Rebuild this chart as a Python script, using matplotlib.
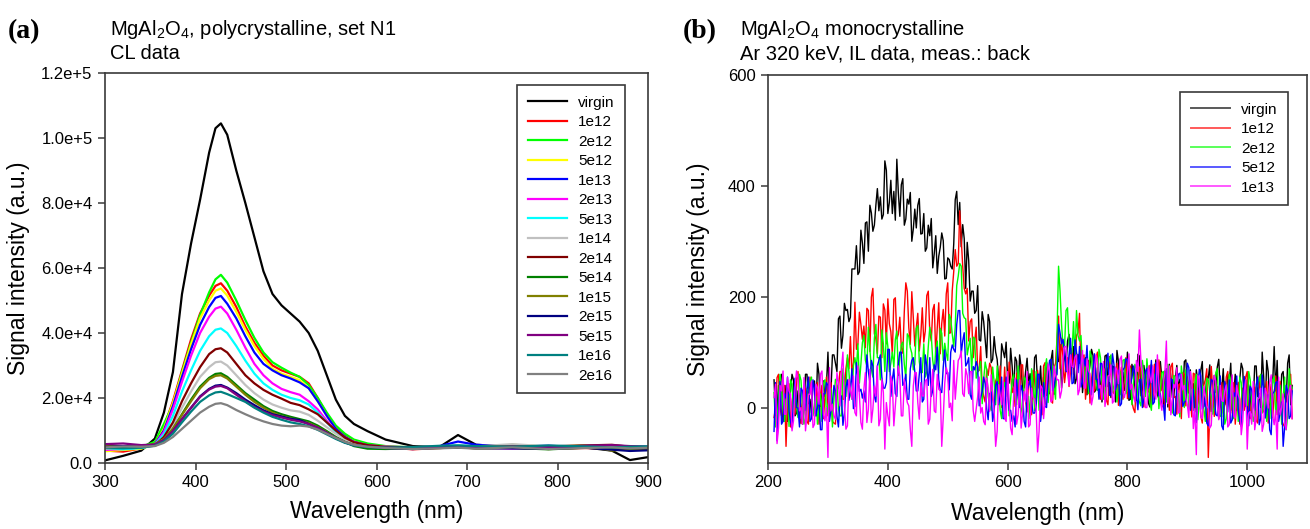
#!/usr/bin/env python
# -*- coding: utf-8 -*-

import numpy as np
import matplotlib
matplotlib.use('Agg')
import matplotlib.pyplot as plt

plt.rcParams['font.family'] = ['Liberation Sans', 'DejaVu Sans']

# ---------------- panel (a): CL data, polycrystalline ----------------
wl_a = [300, 320, 340, 355, 365, 375, 385, 395, 405, 415, 422, 428, 435, 445,
        455, 465, 475, 485, 495, 505, 515, 525, 535, 545, 555, 565, 575, 590,
        610, 640, 670, 690, 710, 750, 790, 830, 860, 880, 900]

labels_a = ['virgin', '1e12', '2e12', '5e12', '1e13', '2e13', '5e13', '1e14',
            '2e14', '5e14', '1e15', '2e15', '5e15', '1e16', '2e16']
colors_a = ['#000000', '#ff0000', '#00ff00', '#ffff00', '#0000ff', '#ff00ff',
            '#00ffff', '#c0c0c0', '#800000', '#008000', '#808000', '#000080',
            '#800080', '#008080', '#808080']

virgin_a = [800, 2200, 3800, 7500, 15500, 28000, 52000, 67500, 81000, 95500, 103000, 104500, 101000,
            90000, 80000, 69500, 59000, 52000, 48500, 46000, 43500, 40000, 34500, 27000, 19500,
            14500, 12000, 9800, 7200, 5200, 5000, 8600, 5600, 5000, 4600, 4800, 3800, 900, 1800]
s1e12 = [3800, 3500, 4500, 6000, 11000, 19000, 28500, 38000, 46000, 51500, 54500, 55300, 53000,
         48000, 42000, 37000, 33000, 30000, 28500, 27500, 26500, 24500, 20000, 15000, 11000,
         8500, 6800, 5600, 4800, 4200, 4600, 4800, 4500, 4700, 4300, 4600, 4400, 4800, 4300]
s2e12 = [4200, 4600, 5000, 6500, 12000, 18000, 28000, 37000, 45500, 52500, 56500, 57900, 55500,
         50000, 44000, 38500, 34000, 31000, 29300, 27800, 26500, 24000, 20000, 15500, 11500,
         9000, 7200, 6000, 5200, 4800, 5000, 5300, 5000, 4700, 5200, 4900, 4600, 4700, 4500]
s5e12 = [3600, 4000, 4400, 5800, 10500, 18500, 27500, 36500, 44500, 50000, 53000, 53700, 51500,
         46500, 41000, 36000, 32000, 29000, 27500, 26500, 25500, 23000, 19000, 14500, 10500,
         8000, 6600, 5500, 5000, 4600, 4900, 5100, 4800, 5600, 5000, 4700, 4500, 4400, 4600]
s1e13 = [4300, 4500, 4700, 5800, 10000, 17500, 26500, 35000, 42500, 48000, 50800, 51400, 49000,
         44500, 39000, 34000, 30500, 28500, 27000, 26000, 24800, 23000, 19000, 14500, 10500,
         8000, 6500, 5500, 5000, 4700, 5200, 6600, 5600, 5000, 5300, 4800, 5200, 5000, 4800]
s2e13 = [4000, 4300, 4800, 5600, 9500, 16500, 25000, 33000, 40000, 45000, 47500, 48100, 46000,
         41000, 35500, 30500, 27000, 24500, 22800, 21800, 21000, 19000, 16500, 13000, 9800,
         7600, 6400, 5400, 4700, 4300, 4800, 5000, 4700, 4400, 4800, 5300, 4700, 4100, 4500]
s5e13 = [4500, 4200, 4600, 5500, 8800, 14500, 22000, 28500, 34500, 39000, 41000, 41400, 40000,
         36000, 31500, 27500, 24500, 22500, 21000, 20000, 19300, 18000, 15500, 12500, 9500,
         7500, 6200, 5300, 4900, 4600, 5000, 5400, 5100, 5300, 4900, 5000, 5300, 5100, 5200]
s1e14 = [4400, 4700, 4900, 5300, 7500, 11500, 17000, 22000, 26500, 29500, 31000, 31200, 30000,
         27000, 24000, 21500, 19500, 18000, 17000, 16200, 15800, 14800, 13000, 11000, 9000,
         7200, 6200, 5400, 5100, 4900, 5200, 5300, 5100, 5800, 5100, 5000, 5300, 4800, 5000]
s2e14 = [4800, 5200, 5000, 5400, 8000, 12500, 19000, 24500, 29500, 33500, 35000, 35300, 34000,
         30500, 27000, 24500, 22500, 21000, 19800, 18500, 17800, 16500, 15000, 12500, 10000,
         7800, 6400, 5500, 5000, 4800, 4900, 5200, 5000, 4800, 5100, 5400, 5600, 5000, 4900]
s5e14 = [5200, 4800, 5300, 5600, 7200, 10500, 15000, 19500, 23500, 26200, 27400, 27600, 26500,
         24000, 21500, 19500, 17500, 16000, 15000, 14200, 13500, 12800, 11500, 9800, 8000,
         6500, 5200, 4400, 4300, 4500, 4600, 4900, 4500, 4600, 4200, 4700, 4400, 4300, 4600]
s1e15 = [5600, 5000, 5200, 5800, 7400, 10500, 14800, 19000, 23000, 25800, 26800, 27000, 26000,
         23500, 21000, 18800, 17000, 15500, 14400, 13700, 13000, 12300, 11000, 9500, 7800,
         6500, 5600, 5000, 4700, 4500, 4800, 4700, 4900, 5200, 5000, 5400, 3800, 4500, 4200]
s2e15 = [4900, 5200, 4900, 5500, 7000, 9800, 13500, 17000, 20500, 22800, 23800, 24000, 23200,
         21500, 19500, 17800, 16200, 15000, 14300, 13600, 13200, 12000, 10800, 9300, 7700,
         6400, 5500, 5000, 4600, 4300, 4700, 4800, 4600, 4500, 4400, 4700, 4100, 3700, 3900]
s5e15 = [5800, 6000, 5500, 5700, 7000, 9800, 13500, 17000, 20300, 22600, 23500, 23700, 23000,
         21000, 19000, 17200, 15800, 14700, 14000, 13300, 12800, 12000, 10800, 9200, 7600,
         6300, 5500, 5000, 4800, 4600, 4900, 5000, 4800, 5100, 4900, 5300, 5500, 5200, 5000]
s1e16 = [4600, 4500, 4700, 5300, 6600, 9000, 12500, 15800, 18800, 20800, 21700, 21900, 21200,
         20000, 18800, 17000, 15500, 14200, 13300, 12500, 12000, 11300, 10200, 8800, 7400,
         6200, 5400, 4900, 4700, 4900, 5300, 5400, 5200, 5000, 5400, 5100, 4800, 5000, 5100]
s2e16 = [4800, 5100, 5000, 5200, 6200, 8000, 10500, 13000, 15500, 17300, 18200, 18400, 17800,
         16300, 15000, 13800, 12800, 12000, 11500, 11300, 11500, 11200, 10300, 9000, 7700,
         6500, 5600, 5000, 4600, 4300, 4500, 4700, 4400, 4800, 4300, 4600, 4800, 4500, 4700]

series_a = [virgin_a, s1e12, s2e12, s5e12, s1e13, s2e13, s5e13, s1e14, s2e14,
            s5e14, s1e15, s2e15, s5e15, s1e16, s2e16]

yticks_a = [0, 20000, 40000, 60000, 80000, 100000, 120000]
yticklabels_a = ['0.0', '2.0e+4', '4.0e+4', '6.0e+4', '8.0e+4', '1.0e+5', '1.2e+5']

# ---------------- panel (b): IL data, monocrystalline ----------------
# readings every 2.5 nm, 210 ... 1075; "main" = 210, 215, ...; "mid" = 212.5, 217.5, ...
wl_b = np.arange(210, 1075.1, 2.5)

labels_b = ['virgin', '1e12', '2e12', '5e12', '1e13']
colors_b = ['#000000', '#ff0000', '#00ff00', '#0000ff', '#ff00ff']

virgin_main = [50, -5, 25, -25, 40, 10, 60, -15, 30, 0,
               -5, 60, 15, 45, -15, 60, 35, 20, 100, 30,
               95, 65, 165, 130, 175, 155, 250, 250, 240, 320,
               260, 335, 365, 318, 365, 355, 340, 445, 350, 410,
               390, 448, 345, 413, 340, 367, 300, 358, 365, 313,
               350, 288, 310, 252, 310, 273, 315, 232, 270, 255,
               295, 390, 370, 330, 215, 265, 210, 170, 220, 120,
               155, 90, 155, 87, 100, 50, 115, 90, 50, 107,
               28, 84, 95, 32, 65, 42, 15, 90, 45, 75,
               55, 82, 25, 103, 40, 83, 35, 105, 120, 70,
               110, 52, 80, 27, 90, 57, 105, 28, 72, 41,
               30, 95, 45, 75, 10, 83, 52, 31, 100, 15,
               63, 13, 93, 33, 53, 8, 78, 58, 23, 83,
               3, 63, 78, 18, 53, 33, 8, 83, 38, 68,
               43, 68, 8, 83, 18, 53, -7, 58, 73, 28,
               70, 15, 45, -5, 60, 30, 80, 5, 50, 20,
               10, 75, 25, 100, -10, 65, 35, 110, 85, 0,
               65, 10, 95, 40]
virgin_mid = [-15, 40, 60, 5, -25, 30, 50, -10, 20, -30,
              60, 7, -10, 48, 80, 2, 48, 40, 15, 95,
              80, 160, 107, 188, 177, 163, 250, 292, 245, 297,
              333, 282, 351, 329, 395, 380, 348, 428, 370, 350,
              338, 388, 402, 329, 376, 388, 322, 324, 377, 314,
              282, 329, 341, 278, 242, 289, 301, 233, 267, 250,
              375, 330, 290, 305, 298, 192, 210, 175, 122, 173,
              122, 168, 81, 128, 87, 43, 102, 118, 44, 75,
              91, 22, 73, 36, 89, 61, 20, 95, 35, 15,
              6, 63, 86, 24, 84, 114, 62, 75, 132, 73,
              43, 96, 113, 56, 23, 76, 94, 32, 61, 10,
              93, 38, 18, 73, 103, 23, 63, 48, 13, 78,
              36, 96, 21, 76, 41, 1, 66, 86, 16, 51,
              66, 1, 56, 21, 76, 51, 11, 86, 26, 6,
              -8, 47, 67, 2, 57, 77, 17, 27, 87, 32,
              5, 60, 80, 25, -5, 50, 70, 10, 40, -10,
              75, 20, 0, 55, 85, 5, 45, 30, -5, 60,
              20, 80, 5]

r1e12_main = [-18, 54, -1, 32, -70, 43, 10, -12, 65, -29,
              25, -25, 55, -5, 15, -30, 40, 20, -15, 45,
              -28, 40, 65, 15, 70, 70, 60, 190, 115, 150,
              147, 179, 101, 215, 124, 165, 90, 176, 196, 137,
              195, 124, 163, 98, 225, 144, 209, 111, 170, 130,
              118, 202, 137, 176, 92, 189, 152, 129, 225, 135,
              245, 255, 355, 255, 205, 120, 160, 120, 65, 110,
              20, 70, 80, 15, 48, 25, 0, 73, 27, 57,
              37, 62, 2, 77, 12, 47, -13, 52, 67, 22,
              75, 22, 55, 8, 80, 165, 125, 45, 90, 65,
              60, 130, 170, 90, 15, 85, 52, 30, 100, 15,
              65, 13, 92, 31, 50, 4, 73, 52, 16, 75,
              -2, 58, 73, 13, 48, 28, 3, 78, 33, 63,
              30, 70, -5, 80, 20, 40, -20, 60, 55, 15,
              62, -4, 32, -28, 50, -90, 74, -16, 38, 2,
              -10, 55, 5, 35, -30, 45, 15, -5, 65, -20,
              27, -23, 57, -3, 17, -28, 42, 22, -13, 47,
              -30, 30, 45, -20]
r1e12_mid = [0, 60, -15, 40, 5, -35, 30, 50, -20, 15,
             35, -30, 25, -10, 45, 20, -20, 55, -5, -25,
             -30, 35, 65, 15, 90, 128, 82, 105, 172, 123,
             108, 175, 199, 133, 97, 163, 187, 115, 151, 96,
             198, 132, 108, 174, 210, 114, 162, 144, 102, 180,
             138, 210, 120, 186, 144, 97, 177, 205, 134, 211,
             285, 260, 305, 215, 215, 155, 90, 145, 67, 33,
             10, 58, 72, 4, 56, 75, 14, 23, 82, 27,
             2, 57, 77, 22, -8, 47, 67, 7, 37, -13,
             81, 29, 12, 72, 125, 70, 88, 70, 38, 107,
             78, 135, 50, 95, 53, 8, 71, 90, 20, 55,
             70, 5, 60, 25, 80, 55, 15, 90, 30, 10,
             -9, 46, 66, 1, 56, 76, 16, 26, 86, 31,
             -2, 53, 73, 18, -12, 43, 63, 3, 33, -17,
             60, 5, -15, 40, 70, -10, 30, 15, -20, 45,
             5, 65, -10, 45, 10, -30, 35, 55, -15, 20,
             37, -28, 27, -8, 47, 22, -18, 57, -3, -23,
             -35, 20, 60]

g2e12_main = [27, -28, 60, -7, 16, -34, 43, 21, -18, 49,
              -30, 30, 45, -15, 20, 0, -25, 50, 5, 35,
              15, 42, -15, 70, 20, 65, 15, 90, 115, 78,
              130, 75, 105, 55, 150, 90, 140, 65, 110, 80,
              73, 138, 88, 118, 53, 128, 98, 78, 148, 63,
              115, 65, 145, 85, 105, 62, 134, 116, 85, 160,
              110, 220, 260, 170, 160, 110, 65, 125, 65, 83,
              50, 68, 2, 73, 5, 40, -20, 45, 60, 15,
              60, 5, 35, -15, 50, 20, 70, -5, 40, 10,
              20, 88, 40, 75, 15, 255, 150, 110, 180, 95,
              155, 175, 120, 75, 80, 25, 90, 68, 31, 90,
              15, 73, 87, 27, 58, 37, 12, 87, 40, 70,
              45, 70, 10, 85, 20, 55, -5, 60, 75, 30,
              65, 10, 40, -10, 55, 25, 75, 0, 45, 15,
              -5, 60, 10, 40, -25, 50, 20, 0, 70, -15,
              30, -20, 60, 0, 20, -25, 45, 25, -10, 50,
              -25, 35, 50, -10, 25, 5, -20, 55, 10, 40,
              20, -40, 70, 35]
g2e12_mid = [-35, 20, 40, -25, 30, 50, -10, 0, 60, 5,
             -20, 35, 55, 0, -30, 25, 45, -15, 15, -35,
             51, -2, -15, 52, 95, 25, 75, 70, 44, 117,
             85, 145, 70, 125, 90, 50, 115, 135, 65, 100,
             123, 58, 113, 78, 133, 108, 68, 143, 83, 63,
             55, 110, 130, 65, 120, 143, 85, 98, 168, 133,
             145, 237, 255, 162, 95, 125, 127, 53, 69, 7,
             82, 20, -5, 46, 75, -5, 35, 20, -15, 50,
             15, 75, 0, 55, 20, -20, 45, 65, -5, 30,
             71, 9, 67, 38, 135, 210, 110, 175, 115, 100,
             90, 130, 130, 47, 90, 102, 39, 47, 105, 47,
             20, 75, 95, 40, 10, 65, 85, 25, 55, 5,
             78, 23, 3, 58, 88, 8, 48, 33, -2, 63,
             18, 78, 3, 58, 23, -17, 48, 68, -2, 33,
             43, -22, 33, -2, 53, 28, -12, 63, 3, -17,
             -30, 25, 45, -20, 35, 55, -5, 5, 65, 10,
             -15, 40, 60, 5, -25, 30, 50, -10, 20, -30,
             55, -15, 40]

b5e12_main = [-43, -60, 47, -25, 17, -7, -37, 53, -1, 35,
              10, 35, -25, 50, -15, 20, -40, 25, 40, -5,
              40, -15, 15, -32, 37, 13, 70, 2, 55, 33,
              30, 95, 45, 75, 10, 85, 55, 35, 105, 20,
              70, 20, 100, 40, 60, 15, 85, 65, 30, 90,
              15, 75, 90, 31, 68, 50, 27, 104, 63, 100,
              105, 150, 175, 120, 75, 90, 15, 68, 73, 18,
              55, -2, 25, -25, 40, 5, 55, -20, 25, -5,
              -15, 50, 0, 30, -35, 40, 10, -10, 60, -25,
              45, 0, 85, 30, 55, 150, 115, 100, 65, 125,
              45, 100, 110, 45, 75, 50, 23, 97, 51, 80,
              57, 82, 22, 97, 32, 67, 7, 72, 87, 42,
              75, 20, 50, 0, 65, 35, 85, 10, 55, 25,
              5, 70, 20, 50, -15, 60, 30, 10, 80, -5,
              33, -27, 69, -3, 21, -33, 51, 27, -15, 57,
              -40, 32, 50, -22, 20, -4, -34, 56, 2, 38,
              11, 41, -31, 59, -19, 23, -49, 29, 47, -7,
              -70, 40, -20, 30]
b5e12_mid = [45, -10, -30, 25, 55, -25, 15, 0, -35, 30,
             -5, 55, -20, 35, 0, -40, 25, 45, -25, 10,
             30, -35, 21, -10, 50, 32, -2, 81, 29, 17,
             10, 65, 85, 20, 75, 95, 35, 45, 105, 50,
             25, 80, 100, 45, 15, 70, 90, 30, 60, 10,
             95, 40, 20, 77, 109, 31, 73, 61, 32, 113,
             100, 175, 97, 135, 80, 23, 74, 83, 3, 29,
             43, -22, 28, -7, 47, 22, -20, 55, -5, -25,
             -35, 20, 40, -25, 30, 50, -10, 0, 60, 5,
             2, 62, 87, 38, 60, 135, 123, 65, 95, 43,
             122, 63, 37, 88, 112, 29, 67, 51, 15, 79,
             38, 98, 23, 78, 43, 3, 68, 88, 18, 53,
             61, -4, 51, 16, 71, 46, 6, 81, 21, 1,
             -23, 32, 52, -13, 42, 62, 2, 12, 72, 17,
             -18, 37, 57, 2, -28, 27, 47, -13, 17, -33,
             47, -8, -28, 27, 57, -23, 17, 2, -33, 32,
             -5, 55, -20, 35, 0, -40, 25, 45, -25, 10,
             -35, 30, -15]

m1e13_main = [18, -65, 40, 66, -12, 30, -42, 36, 54, 0,
              54, -12, 24, -36, 42, 6, 66, -24, -90, -6,
              -15, 63, 3, 100, -39, 51, 15, -9, 75, -27,
              33, -27, 69, -3, 21, -33, 51, -75, -15, 57,
              -33, 39, 57, -15, 27, 3, -70, 63, 9, 45,
              21, 51, -21, 69, -9, 33, -70, 44, 62, 8,
              85, 50, 90, 25, 70, 25, 65, -25, 20, -10,
              -25, 53, -7, 29, -70, 41, 5, -19, 65, -37,
              20, -30, 50, -10, 10, -35, 35, 15, -80, 40,
              -20, 45, 65, 15, 60, 50, 30, 110, 65, 95,
              73, 95, 32, 103, 35, 67, 5, 70, 85, 40,
              83, 28, 58, 8, 73, 43, 93, 18, 63, 33,
              20, 85, 140, 65, 0, 75, 45, 25, 95, 10,
              45, 120, 75, 15, 35, -10, 60, 40, 5, 65,
              -38, -85, 52, -20, 22, -2, -32, 58, 4, 40,
              11, 41, -31, 59, -19, 23, -49, 29, -75, -7,
              47, -19, 17, -43, 35, -1, 59, -31, -75, -13,
              25, -40, 30, -20]
m1e13_mid = [42, -36, 30, -12, 54, 24, -24, 66, -6, -30,
             -42, 24, 48, -30, 36, 60, -12, 0, 72, 6,
             -21, 45, 69, 3, -33, 33, 57, -15, 21, -39,
             63, -3, -27, 39, 75, -21, 27, 9, -33, 45,
             3, 75, -15, 51, 9, -39, 39, 63, -21, 21,
             48, -30, 36, -6, 60, 30, -18, 72, 0, -24,
             15, 85, 102, 20, 58, 65, -5, -2, 55, 0,
             -31, 35, 59, -7, -43, 23, 47, -25, 11, -49,
             53, -13, -37, 29, 65, -31, 17, -1, -43, 35,
             12, 78, 10, 75, 50, 17, 88, 110, 40, 74,
             91, 23, 75, 36, 88, 61, 20, 95, 35, 14,
             2, 57, 77, 12, 67, 87, 27, 37, 97, 42,
             10, 65, 85, 30, 0, 55, 75, 15, 45, -5,
             62, 7, -13, 42, 72, -8, 32, 17, -18, 47,
             -2, 58, -17, 38, 3, -37, 28, 48, -22, 13,
             30, -35, 20, -15, 40, 15, -25, 50, -10, -30,
             -40, 15, 35, -30, 25, 45, -15, -5, 55, 0,
             -30, 20, 40]

readings_b = [(virgin_main, virgin_mid), (r1e12_main, r1e12_mid),
              (g2e12_main, g2e12_mid), (b5e12_main, b5e12_mid),
              (m1e13_main, m1e13_mid)]


def merge(main, mid):
    out = np.empty(len(main) + len(mid))
    out[0::2] = main
    out[1::2] = mid
    return out


def style_axes(ax):
    for sp in ax.spines.values():
        sp.set_color('#3a3a3a')
        sp.set_linewidth(1.2)
    ax.tick_params(direction='out', length=5, width=1.1, color='#3a3a3a',
                   labelsize=12, pad=4, top=False, right=False)


def make_plots():
    fig = plt.figure(figsize=(13.1, 5.29), dpi=100)

    # ---- (a)
    ax = fig.add_axes([0.0802, 0.1248, 0.4145, 0.7372])
    for ys, c, lab in zip(series_a, colors_a, labels_a):
        ax.plot(wl_a, ys, color=c, lw=1.6, label=lab)
    ax.set_xlim(300, 900)
    ax.set_ylim(0, 120000)
    ax.set_xticks([300, 400, 500, 600, 700, 800, 900])
    ax.set_yticks(yticks_a)
    ax.set_yticklabels(yticklabels_a)
    style_axes(ax)
    ax.set_xlabel('Wavelength (nm)', fontsize=16.5)
    ax.set_ylabel('Signal intensity (a.u.)', fontsize=16.5)
    ax.xaxis.set_label_coords(0.5, -0.095)
    ax.yaxis.set_label_coords(-0.138, 0.5)
    leg = ax.legend(loc='upper right', bbox_to_anchor=(0.958, 0.969), fontsize=11,
                    frameon=True, fancybox=False, framealpha=1, edgecolor='#3a3a3a',
                    handlelength=2.6, handletextpad=0.7, labelspacing=0.36,
                    borderpad=0.7, borderaxespad=0)
    leg.get_frame().set_linewidth(1.2)

    fig.text(0.006, 0.94, '(a)', fontsize=20, fontweight='bold',
             family='Liberation Serif', va='center')
    fig.text(0.084, 0.945, r'MgAl$_\mathregular{2}$O$_\mathregular{4}$, polycrystalline, set N1',
             fontsize=14.5, va='center')
    fig.text(0.084, 0.898, 'CL data', fontsize=14.5, va='center')

    # ---- (b)
    bx = fig.add_axes([0.5863, 0.1248, 0.4115, 0.7335])
    for (m, h), c, lab in zip(readings_b, colors_b, labels_b):
        bx.plot(wl_b, merge(m, h), color=c, lw=1.0, label=lab)
    bx.set_xlim(200, 1100)
    bx.set_ylim(-100, 600)
    bx.set_xticks([200, 400, 600, 800, 1000])
    bx.set_yticks([0, 200, 400, 600])
    style_axes(bx)
    bx.set_xlabel('Wavelength (nm)', fontsize=16.5)
    bx.set_ylabel('Signal intensity (a.u.)', fontsize=16.5)
    bx.xaxis.set_label_coords(0.5, -0.1)
    bx.yaxis.set_label_coords(-0.108, 0.5)
    leg = bx.legend(loc='upper right', bbox_to_anchor=(0.965, 0.956), fontsize=11,
                    frameon=True, fancybox=False, framealpha=1, edgecolor='#3a3a3a',
                    handlelength=2.6, handletextpad=0.7, labelspacing=0.36,
                    borderpad=0.7, borderaxespad=0)
    leg.get_frame().set_linewidth(1.2)
    for ln in leg.get_lines():
        ln.set_linewidth(1.4)
        ln.set_alpha(0.65)

    fig.text(0.521, 0.94, '(b)', fontsize=20, fontweight='bold',
             family='Liberation Serif', va='center')
    fig.text(0.565, 0.945, r'MgAl$_\mathregular{2}$O$_\mathregular{4}$ monocrystalline',
             fontsize=14.5, va='center')
    fig.text(0.565, 0.898, 'Ar 320 keV, IL data, meas.: back', fontsize=14.5, va='center')

    fig.savefig('out.png', dpi=100)


if __name__ == '__main__':
    make_plots()
